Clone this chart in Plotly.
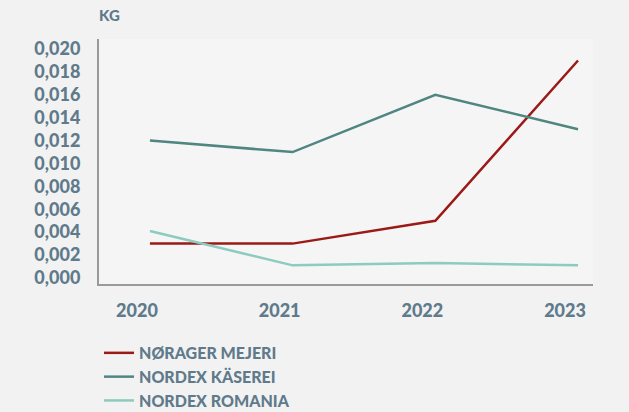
import plotly.graph_objects as go

years = ["2020", "2021", "2022", "2023"]
noerager = [0.003, 0.003, 0.005, 0.019]
kaeserei = [0.012, 0.011, 0.016, 0.013]
romania = [0.0041, 0.0011, 0.0013, 0.0011]
series_names = ["NØRAGER MEJERI", "NORDEX KÄSEREI", "NORDEX ROMANIA"]
colors = ["#9a1a17", "#4f8680", "#8ccbbe"]

txt = "#5f7a8b"
font = "Lato"
bg = "#f2f2f2"

fig = go.Figure()
for name, vals, c in zip(series_names, [noerager, kaeserei, romania], colors):
    fig.add_trace(go.Scatter(x=list(range(len(years))), y=vals, mode="lines", name=name,
                             line=dict(color=c, width=2.5), hoverinfo="skip"))

fig.update_layout(
    width=629, height=412,
    margin=dict(l=99, r=36, t=39, b=128, autoexpand=False),
    paper_bgcolor=bg, plot_bgcolor="#f5f5f5",
    separators=",.",
    font=dict(family=font, color=txt),
    showlegend=True,
    legend=dict(orientation="v", x=0.0, xanchor="left", y=-0.212, yanchor="top",
                font=dict(family=font, size=16, color=txt, weight=900),
                bgcolor="rgba(0,0,0,0)", tracegroupgap=0, itemwidth=30),
)
fig.update_xaxes(
    tickmode="array", tickvals=list(range(len(years))), ticktext=years,
    range=[-0.357, 3.105], showgrid=False, zeroline=False,
    showline=True, linecolor="#9a9a9a", linewidth=2,
    tickfont=dict(family=font, size=18, color=txt, weight=900),
    ticklabelshift=-13, ticklabelstandoff=9,
)
fig.update_yaxes(
    range=[-0.00053, 0.02088], dtick=0.002, tick0=0, tickformat=".3f",
    showgrid=False, zeroline=False,
    showline=True, linecolor="#9a9a9a", linewidth=2,
    tickfont=dict(family=font, size=18, color=txt, weight=900),
    ticklabelstandoff=13,
)
fig.add_annotation(text="KG", xref="paper", yref="paper", x=0.022, xanchor="center",
                   y=1, yanchor="bottom", yshift=13, showarrow=False,
                   font=dict(family=font, size=15, color=txt, weight=900))

fig.write_html("out.html", config={"displayModeBar": False},
               post_script="document.body.style.margin='0';document.body.style.background='%s';" % bg)
